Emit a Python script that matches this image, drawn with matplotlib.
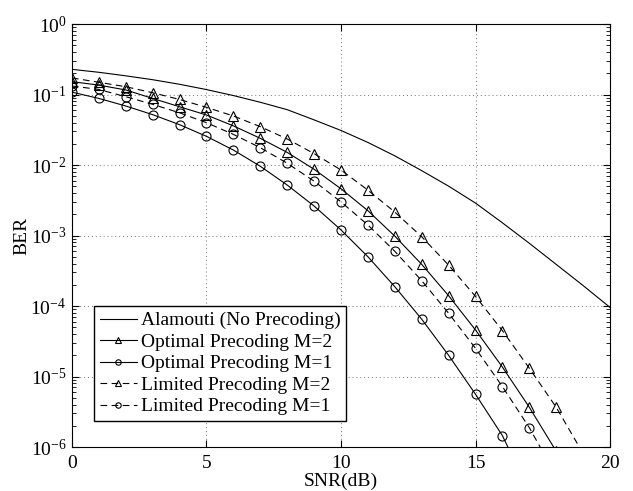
import matplotlib.pyplot as plt
import numpy as np

plt.rcParams['font.family'] = 'Liberation Serif'
plt.rcParams['mathtext.fontset'] = 'stix'
plt.rcParams['font.size'] = 14

# SNR grid (dB)
snr_ref = np.arange(0, 21)
snr_m = np.arange(0, 20)

# Alamouti (no precoding), log10(BER)
alamouti_log = [-0.643, -0.685, -0.735, -0.79, -0.855, -0.93, -1.015, -1.11, -1.215, -1.36,
                -1.51, -1.68, -1.87, -2.08, -2.30, -2.54, -2.82, -3.11, -3.41, -3.71, -4.02]
alamouti = 10 ** np.array(alamouti_log)

opt_m2 = [0.152, 0.136, 0.116, 0.088, 0.067, 0.0512, 0.0359, 0.0239, 0.0151, 8.7e-3,
          4.6e-3, 2.25e-3, 9.8e-4, 3.9e-4, 1.40e-4, 4.57e-5, 1.36e-5, 3.66e-6, 8.7e-7]
opt_m1 = [0.108, 0.088, 0.0687, 0.0518, 0.0373, 0.0255, 0.0163, 9.6e-3, 5.2e-3, 2.62e-3,
          1.2e-3, 5.0e-4, 1.88e-4, 6.5e-5, 2.0e-5, 5.6e-6, 1.45e-6, 2.3e-7]
lim_m2 = [0.172, 0.149, 0.129, 0.106, 0.085, 0.0658, 0.0496, 0.035, 0.0234, 0.0145,
          8.5e-3, 4.4e-3, 2.15e-3, 9.6e-4, 3.8e-4, 1.37e-4, 4.47e-5, 1.31e-5, 3.66e-6, 8.1e-7]
lim_m1 = [0.132, 0.118, 0.093, 0.0726, 0.055, 0.0398, 0.0272, 0.0176, 0.0106, 5.9e-3,
          3.0e-3, 1.41e-3, 5.97e-4, 2.29e-4, 7.9e-5, 2.51e-5, 7.2e-6, 1.88e-6, 3.9e-7]

fig = plt.figure(figsize=(6.33, 4.91), dpi=100)
ax = fig.add_axes([0.1137, 0.0896, 0.85, 0.8615])

lw = 0.8
dash = (6, 4)
ax.semilogy(snr_ref, alamouti, 'k-', lw=lw, label='Alamouti (No Precoding)')
ax.semilogy(snr_m[:len(opt_m2)], opt_m2, 'k-', marker='^', mfc='none', ms=7, mew=0.8, lw=lw,
            label='Optimal Precoding M=2')
ax.semilogy(snr_m[:len(opt_m1)], opt_m1, 'k-', marker='o', mfc='none', ms=6.5, mew=0.8, lw=lw,
            label='Optimal Precoding M=1')
ax.semilogy(snr_m[:len(lim_m2)], lim_m2, 'k--', dashes=dash, marker='^', mfc='none', ms=7, mew=0.8,
            lw=lw, label='Limited Precoding M=2')
ax.semilogy(snr_m[:len(lim_m1)], lim_m1, 'k--', dashes=dash, marker='o', mfc='none', ms=6.5, mew=0.8,
            lw=lw, label='Limited Precoding M=1')

ax.set_xlim(0, 20)
ax.set_ylim(1e-6, 1)
ax.set_xticks([0, 5, 10, 15, 20])
ax.grid(True, which='major', linestyle=(0, (1, 3)), color='0.45', lw=0.7)
ax.tick_params(which='both', direction='in', top=True, right=True)
ax.tick_params(which='major', length=5)
ax.tick_params(which='minor', length=3)
ax.tick_params(axis='x', pad=6)
ax.tick_params(axis='y', pad=4)

ax.set_xlabel('SNR(dB)', labelpad=0)
ax.set_ylabel('BER', labelpad=0)

leg = ax.legend(loc='lower left', bbox_to_anchor=(0.041, 0.061), fancybox=False, framealpha=1,
                edgecolor='k', handlelength=1.9, handletextpad=0.2, borderpad=0.3,
                labelspacing=0.2, borderaxespad=0, markerscale=0.6)
leg.get_frame().set_linewidth(1.0)

plt.savefig('out.png', dpi=100)
